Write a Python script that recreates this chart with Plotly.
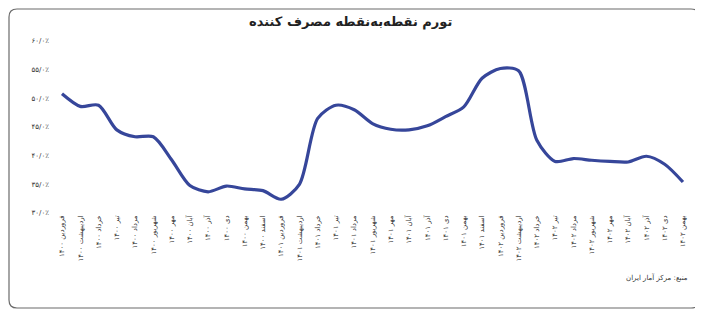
import plotly.graph_objects as go

months = ["فروردین", "اردیبهشت", "خرداد", "تیر", "مرداد", "شهریور",
          "مهر", "آبان", "آذر", "دی", "بهمن", "اسفند"]
years = ["۱۴۰۰", "۱۴۰۱", "۱۴۰۲"]
categories = [f"{m} {y}" for y in years for m in months][:35]

inflation = [50.8, 48.6, 48.8, 44.5, 43.3, 43.3, 39.3, 34.8, 33.7, 34.7,
             34.2, 33.9, 32.4, 35.0, 46.5, 48.8, 48.0, 45.6, 44.6, 44.5,
             45.2, 46.8, 48.5, 53.5, 55.2, 54.8, 42.7, 39.0, 39.5, 39.2,
             39.0, 38.9, 39.9, 38.5, 35.4]

y_ticks = [30, 35, 40, 45, 50, 55, 60]
y_tick_text = ["۳۰/۰٪", "۳۵/۰٪", "۴۰/۰٪", "۴۵/۰٪", "۵۰/۰٪", "۵۵/۰٪", "۶۰/۰٪"]

title_text = "<b>تورم نقطه‌به‌نقطه مصرف کننده</b>"
source_text = "منبع: مرکز آمار ایران"

x_idx = list(range(len(categories)))

# page body adds an 8px offset; work in screen pixels and shift
OX, OY = 8, 8
W, H = 695, 306
PLOT_L, PLOT_R, PLOT_T, PLOT_B = 50, 693, 41, 213   # screen pixels
L = PLOT_L - OX
R = W - (PLOT_R - OX)
T = PLOT_T - OY
B = H - (PLOT_B - OY)
pw, ph = W - L - R, H - T - B

def px_x(p):
    return (p - OX - L) / pw

def px_y(p):
    return (H - B - (p - OY)) / ph

fig = go.Figure()
fig.add_trace(go.Scatter(
    x=x_idx, y=inflation, mode="lines",
    line=dict(color="#36469a", width=3.2, shape="spline", smoothing=0.8),
    hoverinfo="skip", showlegend=False,
))

# rounded border
x0, x1 = px_x(9), px_x(699)
y0, y1 = px_y(308), px_y(9)
rx, ry = 8 / pw, 8 / ph
path = (f"M {x0+rx},{y1} L {x1-rx},{y1} Q {x1},{y1} {x1},{y1-ry} "
        f"L {x1},{y0+ry} Q {x1},{y0} {x1-rx},{y0} L {x0+rx},{y0} "
        f"Q {x0},{y0} {x0},{y0+ry} L {x0},{y1-ry} Q {x0},{y1} {x0+rx},{y1} Z")

fig.update_layout(
    width=W, height=H,
    margin=dict(l=L, r=R, t=T, b=B, autoexpand=False),
    paper_bgcolor="white", plot_bgcolor="white",
    font=dict(family="DejaVu Sans", color="#333333"),
    shapes=[dict(type="path", path=path, xref="paper", yref="paper",
                 line=dict(color="#6b6b6b", width=1.2), layer="below")],
    annotations=[
        dict(text=title_text, x=px_x(350), y=px_y(22), xref="paper", yref="paper",
             showarrow=False, font=dict(size=13, color="#222222", family="DejaVu Sans"),
             xanchor="center", yanchor="middle"),
        dict(text=source_text, x=px_x(690), y=px_y(277), xref="paper", yref="paper",
             showarrow=False, font=dict(size=7, color="#333333"),
             xanchor="right", yanchor="middle"),
    ],
)
fig.update_xaxes(
    range=[-0.657, 34.55], tickmode="array", tickvals=x_idx, ticktext=categories,
    tickangle=-90, tickfont=dict(size=7, color="#333333"), automargin=False,
    showgrid=False, zeroline=False, showline=False, ticks="",
)
fig.update_yaxes(
    range=[30, 60], tickmode="array", tickvals=y_ticks, ticktext=y_tick_text,
    tickfont=dict(size=7, color="#333333"), automargin=False,
    showgrid=False, zeroline=False, showline=False, ticks="",
)

fig.write_html("out.html")
